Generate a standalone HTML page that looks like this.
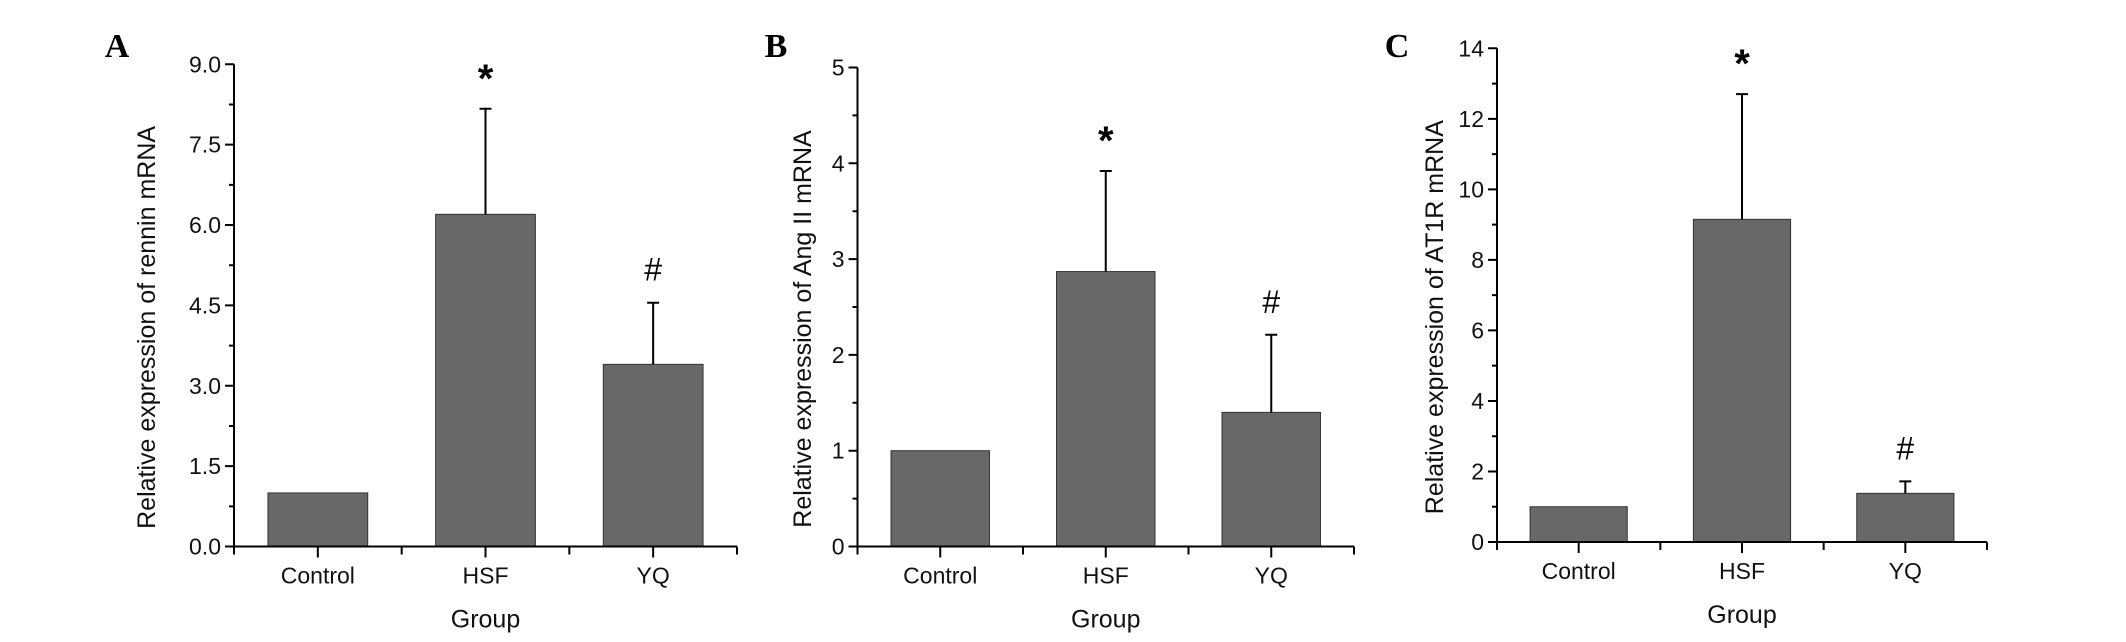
<!DOCTYPE html>
<html><head><meta charset="utf-8"><style>
html,body{margin:0;padding:0;background:#fff;}
svg{display:block;font-family:"Liberation Sans",Arial,sans-serif;}
</style></head><body>
<svg id="fig" width="2126" height="642" viewBox="0 0 2126 642" xmlns="http://www.w3.org/2000/svg"></svg>
<script>
const categories = ["Control","HSF","YQ"];
const valuesA = [1.0, 6.2, 3.4];
const errA = [0, 1.97, 1.15];
const valuesB = [1.0, 2.87, 1.4];
const errB = [0, 1.05, 0.81];
const valuesC = [1.0, 9.15, 1.38];
const errC = [0, 3.55, 0.34];
const ticksA = [0, 1.5, 3.0, 4.5, 6.0, 7.5, 9.0];
const tickLabelsA = ["0.0","1.5","3.0","4.5","6.0","7.5","9.0"];
const ticksB = [0,1,2,3,4,5];
const tickLabelsB = ["0","1","2","3","4","5"];
const ticksC = [0,2,4,6,8,10,12,14];
const tickLabelsC = ["0","2","4","6","8","10","12","14"];
const marksA = ["", "*", "#"];
const marksB = ["", "*", "#"];
const marksC = ["", "*", "#"];

const svg = document.getElementById('fig');
const NS = 'http://www.w3.org/2000/svg';
function mk(tag, attrs, text){
  const e = document.createElementNS(NS, tag);
  for (const k in attrs) e.setAttribute(k, attrs[k]);
  if (text !== undefined) e.textContent = text;
  svg.appendChild(e);
  return e;
}

function panel(p){
  const y = v => p.y0 - (v - p.vmin) / (p.vmax - p.vmin) * (p.y0 - p.ytop);
  const band = (p.xend - p.x0) / categories.length;
  const xc = i => p.x0 + band * (i + 0.5);
  let t = mk('text', {x:p.lx, y:57, 'font-family':'"Liberation Serif",serif', 'font-weight':'bold', 'font-size':34, 'text-anchor':'middle', fill:'#000'}, p.letter);
  
  
  p.vals.forEach((v,i)=>{
    const bw = band * 0.595;
    const r = mk('rect', {x:xc(i)-bw/2, y:y(v), width:bw, height:p.y0-y(v), fill:'#686868', stroke:'#333', 'stroke-width':1});
    
    
    if (p.err[i] > 0){
      const top = y(v + p.err[i]);
      const l = mk('path', {d:`M${xc(i)} ${y(v)} V${top} M${xc(i)-6} ${top} H${xc(i)+6}`, stroke:'#000', 'stroke-width':2, fill:'none'});
      
      
    }
    if (p.marks[i]){
      const isStar = p.marks[i] === '*';
      const mY = isStar ? y(v + p.err[i]) - 10 : y(v + p.err[i]) - 22;
      const m = mk('text', {x:xc(i), y: isStar ? mY + 22 : mY, 'font-size': isStar?40:32, 'font-weight': isStar?'bold':'normal', 'text-anchor':'middle', fill:'#000'}, p.marks[i]);
      if (isStar) m.setAttribute('y', y(v + p.err[i]) - 17 + 0);
      
      
    }
    const c = mk('text', {x:xc(i), y:p.y0+37, 'font-size':23, 'text-anchor':'middle', fill:'#111'}, categories[i]);
    
    
  });
  const ax = mk('path', {d:`M${p.x0} ${p.ytop} V${p.y0} H${p.xend}`, stroke:'#000', 'stroke-width':2, fill:'none'});
  
  
  let d = '';
  for (let i=0;i<=categories.length;i++){
    const x = p.x0 + band*i;
    d += `M${x} ${p.y0} v8 `;
    if (i<categories.length) d += `M${xc(i)} ${p.y0} v11 `;
  }
  p.ticks.forEach((v,i)=>{
    d += `M${p.x0} ${y(v)} h-9 `;
    if (i < p.ticks.length-1) d += `M${p.x0} ${y((v+p.ticks[i+1])/2)} h-5 `;
    const tl = mk('text', {x:p.x0-13, y:y(v)+8, 'font-size':23, 'text-anchor':'end', fill:'#111'}, p.tickLabels[i]);
    
    
  });
  const tk = mk('path', {d, stroke:'#000', 'stroke-width':2, fill:'none'});
  
  
  const cy = (p.ytop + p.y0)/2 + 22;
  const yt = mk('text', {x:p.tx, y:cy, 'font-size':25, 'text-anchor':'middle', fill:'#111', transform:`rotate(-90 ${p.tx} ${cy})`}, p.title);
  
  
  const g = mk('text', {x:(p.x0+p.xend)/2, y:p.y0+81, 'font-size':25, 'text-anchor':'middle', fill:'#111'}, 'Group');
  
  
}

panel({letter:'A', lx:117, x0:234, xend:737, y0:546.5, ytop:64.3, vmin:0, vmax:9, vals:valuesA, err:errA, marks:marksA, ticks:ticksA, tickLabels:tickLabelsA, title:'Relative expression of rennin mRNA', tx:155});
panel({letter:'B', lx:776, x0:857.5, xend:1354, y0:546.5, ytop:67.5, vmin:0, vmax:5, vals:valuesB, err:errB, marks:marksB, ticks:ticksB, tickLabels:tickLabelsB, title:'Relative expression of Ang II mRNA', tx:811});
panel({letter:'C', lx:1397, x0:1497, xend:1987, y0:542, ytop:48.3, vmin:0, vmax:14, vals:valuesC, err:errC, marks:marksC, ticks:ticksC, tickLabels:tickLabelsC, title:'Relative expression of AT1R mRNA', tx:1443});
</script>
</body></html>
